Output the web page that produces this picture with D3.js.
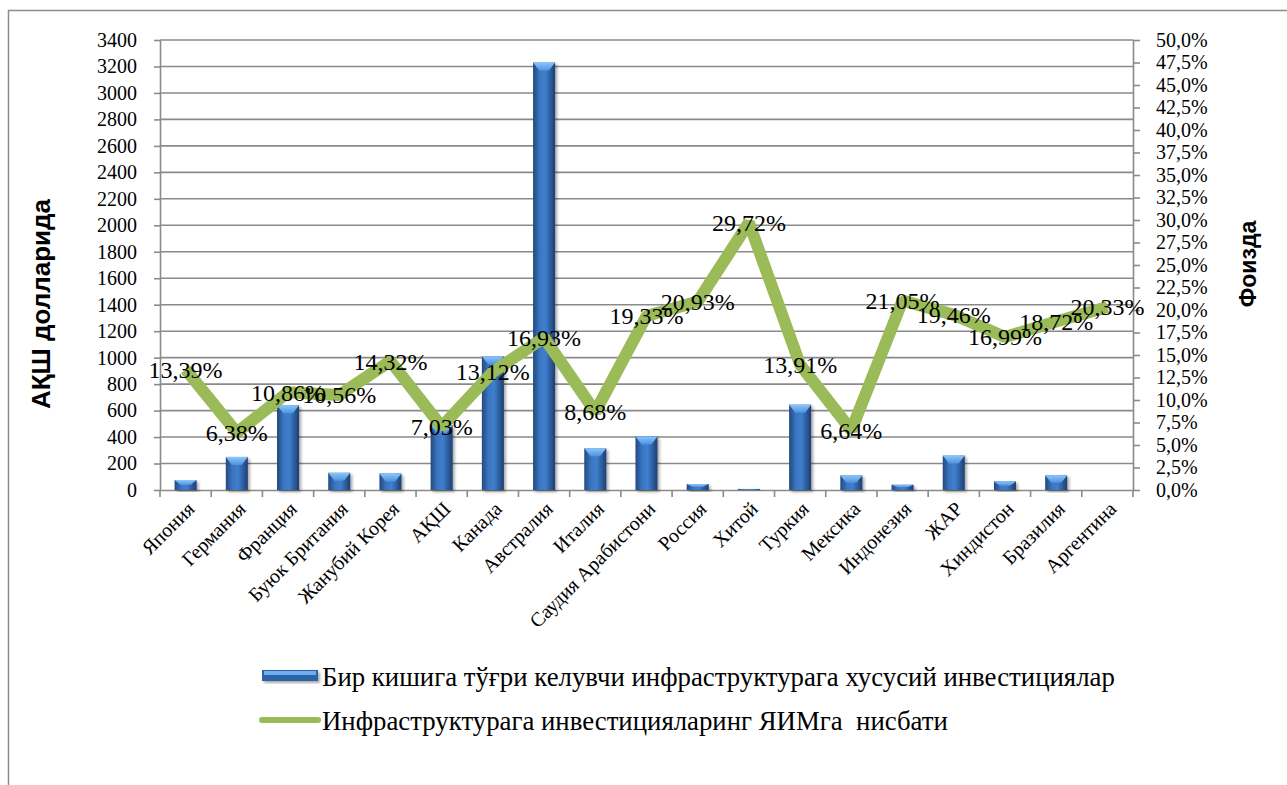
<!DOCTYPE html>
<html>
<head>
<meta charset="utf-8">
<script src="https://cdn.jsdelivr.net/npm/d3@7"></script>
<style>
  body { margin: 0; background: #fff; }
  svg text { font-family: "Liberation Serif", "Times New Roman", serif; fill: #000; }
  .tick text { font-size: 20px; }
  .title { font-family: "Liberation Sans", Arial, sans-serif !important; font-weight: bold; }
</style>
</head>
<body>
<svg width="1287" height="785"></svg>
<script>
const countries = ["Япония", "Германия", "Франция", "Буюк Британия", "Жанубий Корея", "АҚШ",
  "Канада", "Австралия", "Италия", "Саудия Арабистони", "Россия", "Хитой", "Туркия",
  "Мексика", "Индонезия", "ЖАР", "Хиндистон", "Бразилия", "Аргентина"]

// per capita private infrastructure investment, USD
const perCapita = [75, 250, 640, 130, 125, 490, 1010, 3230, 315, 405, 45, 8, 645, 110, 40, 260, 65, 110, 0]

// infrastructure investment / GDP, share
const gdpShare = [0.1339, 0.0638, 0.1086, 0.1056, 0.1432, 0.0703, 0.1312, 0.1693, 0.0868, 0.1933,
  0.2093, 0.2972, 0.1391, 0.0664, 0.2105, 0.1946, 0.1699, 0.1872, 0.2033]

const leftTicks = d3.range(0, 3401, 200)
const rightTicks = d3.range(0, 0.5001, 0.025)

const legendLabels = ["Бир кишига тўғри келувчи инфраструктурага хусусий инвестициялар",
  "Инфраструктурага инвестицияларинг ЯИМга  нисбати"]

const svg = d3.select("svg")
const plotL = 160, plotR = 1133, plotT = 40, plotB = 490
const grey = "#8a8a8a"

// outer chart border
svg.append("rect")
  .attr("x", 8.5).attr("y", 10.5)
  .attr("width", 1300).attr("height", 800)
  .attr("fill", "none").attr("stroke", "#8c8c8c").attr("stroke-width", 1.5)

const x = d3.scaleBand().domain(countries).range([plotL, plotR])
const y = d3.scaleLinear().domain([0, 3400]).range([plotB, plotT])
const y2 = d3.scaleLinear().domain([0, 0.5]).range([plotB, plotT])

const defs = svg.append("defs")
const g1 = defs.append("linearGradient").attr("id", "barGrad")
g1.append("stop").attr("offset", "0%").attr("stop-color", "#23497e")
g1.append("stop").attr("offset", "30%").attr("stop-color", "#3a75c0")
g1.append("stop").attr("offset", "55%").attr("stop-color", "#3f7fcf")
g1.append("stop").attr("offset", "100%").attr("stop-color", "#1d3f70")
const g2 = defs.append("linearGradient").attr("id", "capGrad").attr("x2", 0).attr("y2", 1)
g2.append("stop").attr("offset", "0%").attr("stop-color", "#8cc6fa")
g2.append("stop").attr("offset", "100%").attr("stop-color", "#4d93e0")
const shadow = defs.append("filter").attr("id", "shadow")
  .attr("x", "-30%").attr("y", "-10%").attr("width", "160%").attr("height", "130%")
shadow.append("feGaussianBlur").attr("in", "SourceAlpha").attr("stdDeviation", 1.6)
shadow.append("feOffset").attr("dx", 1.5).attr("dy", 1.5).attr("result", "b")
shadow.append("feComponentTransfer").append("feFuncA").attr("type", "linear").attr("slope", 0.35)
const merge = shadow.append("feMerge")
merge.append("feMergeNode")
merge.append("feMergeNode").attr("in", "SourceGraphic")

// gridlines
svg.append("g")
  .selectAll("line")
  .data(leftTicks.slice(1))
  .enter()
  .append("line")
  .attr("x1", plotL).attr("x2", plotR)
  .attr("y1", d => y(d)).attr("y2", d => y(d))
  .attr("stroke", grey).attr("stroke-width", 1.6)

// left axis
const leftAxis = svg.append("g")
  .attr("transform", `translate(${plotL},0)`)
  .call(d3.axisLeft(y).tickValues(leftTicks).tickFormat(d3.format("d"))
    .tickSize(6).tickPadding(17).tickSizeOuter(0))
leftAxis.select(".domain").attr("stroke", grey).attr("stroke-width", 1.6)
leftAxis.selectAll(".tick line").attr("stroke", grey).attr("stroke-width", 1.6)

// right axis
const pct = d => d3.format(".1%")(d).replace(".", ",")
const rightAxis = svg.append("g")
  .attr("transform", `translate(${plotR},0)`)
  .call(d3.axisRight(y2).tickValues(rightTicks).tickFormat(pct).tickSize(7).tickPadding(16).tickSizeOuter(0))
rightAxis.select(".domain").attr("stroke", grey).attr("stroke-width", 1.6)
rightAxis.selectAll(".tick line").attr("stroke", grey).attr("stroke-width", 1.6)

// bottom axis
const bottomAxis = svg.append("g")
  .attr("transform", `translate(0,${plotB})`)
  .call(d3.axisBottom(x).tickSize(0).tickSizeOuter(0))
bottomAxis.select(".domain").attr("stroke", grey).attr("stroke-width", 1.6)
bottomAxis.selectAll(".tick text")
  .attr("text-anchor", "end")
  .attr("dy", 0)
  .attr("transform", "translate(8,18) rotate(-45)")

svg.append("g")
  .selectAll("line")
  .data(countries.map(c => x(c)).concat([plotR]))
  .enter()
  .append("line")
  .attr("x1", d => d).attr("x2", d => d)
  .attr("y1", plotB).attr("y2", plotB + 7)
  .attr("stroke", grey).attr("stroke-width", 1.6)

// bars
const bw = x.bandwidth() * 0.43
const bars = svg.append("g")
  .selectAll("g")
  .data(perCapita.map((v, i) => ({ c: countries[i], v })).filter(d => d.v > 0))
  .enter()
  .append("g")
  .attr("filter", "url(#shadow)")
  .attr("transform", d => `translate(${x(d.c) + (x.bandwidth() - bw) / 2},${y(d.v)})`)

bars.append("rect")
  .attr("width", bw)
  .attr("height", d => plotB - y(d.v))
  .attr("fill", "url(#barGrad)")

bars.append("path")
  .attr("d", d => {
    const h = Math.min(8, (plotB - y(d.v)) / 2)
    return `M0,0 L${bw},0 L${bw * 0.72},${h} L${bw * 0.28},${h} Z`
  })
  .attr("fill", "url(#capGrad)")

// line
const line = d3.line()
  .x((d, i) => x(countries[i]) + x.bandwidth() / 2)
  .y(d => y2(d))

svg.append("path")
  .datum(gdpShare)
  .attr("d", line)
  .attr("fill", "none")
  .attr("stroke", "#9bbb59")
  .attr("stroke-width", 12)
  .attr("stroke-linejoin", "bevel")

// data labels
svg.append("g")
  .selectAll("text")
  .data(gdpShare)
  .enter()
  .append("text")
  .attr("x", (d, i) => x(countries[i]) + x.bandwidth() / 2)
  .attr("y", d => y2(d))
  .attr("dy", "0.35em")
  .attr("text-anchor", "middle")
  .style("font-size", "24px")
  .text(d => d3.format(".2%")(d).replace(".", ","))

// axis titles
svg.append("text")
  .attr("class", "title")
  .attr("transform", "translate(50,304) rotate(-90)")
  .attr("text-anchor", "middle")
  .style("font-size", "26px")
  .text("АҚШ долларида")

svg.append("text")
  .attr("class", "title")
  .attr("transform", "translate(1256,264) rotate(-90)")
  .attr("text-anchor", "middle")
  .style("font-size", "23px")
  .text("Фоизда")

// legend
const legend = svg.append("g")
const l1 = legend.append("g").attr("filter", "url(#shadow)")
l1.append("rect").attr("x", 262).attr("y", 670).attr("width", 56).attr("height", 11).attr("fill", "#2f62a6")
l1.append("rect").attr("x", 264).attr("y", 671).attr("width", 52).attr("height", 4).attr("fill", "#6eaef0")
legend.append("line")
  .attr("x1", 262).attr("x2", 318).attr("y1", 720).attr("y2", 720)
  .attr("stroke", "#9bbb59").attr("stroke-width", 6).attr("stroke-linecap", "round")

legend.selectAll("text.leg")
  .data(legendLabels)
  .enter()
  .append("text")
  .attr("class", "leg")
  .attr("x", 322)
  .attr("y", (d, i) => 686 + i * 44)
  .style("font-size", "26.8px")
  .style("white-space", "pre")
  .text(d => d)
</script>
</body>
</html>
